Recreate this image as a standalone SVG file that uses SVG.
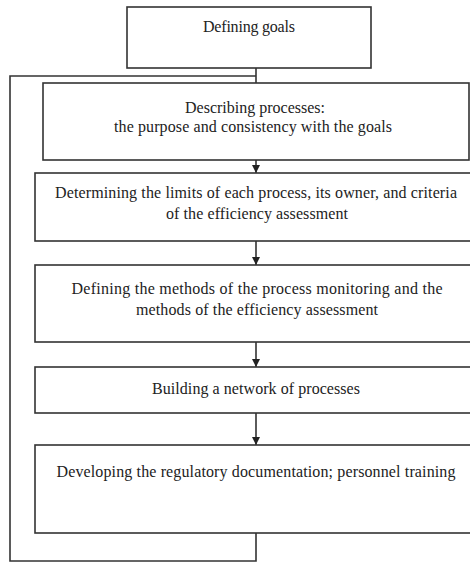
<svg xmlns="http://www.w3.org/2000/svg" width="470" height="563" viewBox="0 0 470 563">
<style>
.box{fill:#fff;stroke:#333;stroke-width:1.6}
.t{font-family:"Liberation Serif","Times New Roman",serif;font-size:16px;fill:#222;text-anchor:middle}
.c{fill:none;stroke:#333;stroke-width:1.6}
</style>
<defs>
<marker id="ah" viewBox="0 0 10 10" refX="10" refY="5" markerWidth="8" markerHeight="8" markerUnits="userSpaceOnUse" orient="auto">
<path d="M0,0 L10,5 L0,10 Z" fill="#222"/>
</marker>
</defs>
<rect width="470" height="563" fill="#fff"/>
<g id="connectors">
<line class="c" x1="256" y1="68" x2="256" y2="83"/>
<polyline class="c" points="256,533 256,561 10,561 10,76 256,76"/>
<line class="c" x1="256" y1="160" x2="256" y2="173" marker-end="url(#ah)"/>
<line class="c" x1="256" y1="241" x2="256" y2="265" marker-end="url(#ah)"/>
<line class="c" x1="256" y1="342" x2="256" y2="367" marker-end="url(#ah)"/>
<line class="c" x1="256" y1="413" x2="256" y2="445" marker-end="url(#ah)"/>
</g>
<g id="n1">
<rect class="box" x="127" y="7" width="244" height="61"/>
<text class="t" x="249" y="32" textLength="92">Defining goals</text>
</g>
<g id="n2">
<rect class="box" x="43" y="83" width="426" height="77"/>
<text class="t" x="255" y="113" textLength="140">Describing processes:</text>
<text class="t" x="253" y="132" textLength="278">the purpose and consistency with the goals</text>
</g>
<g id="n3">
<rect class="box" x="35" y="173" width="445" height="68"/>
<text class="t" x="256" y="198" textLength="402">Determining the limits of each process, its owner, and criteria</text>
<text class="t" x="257" y="219" textLength="182">of the efficiency  assessment</text>
</g>
<g id="n4">
<rect class="box" x="35" y="265" width="445" height="77"/>
<text class="t" x="257" y="294" textLength="371">Defining the methods of the process monitoring and the</text>
<text class="t" x="257" y="315" textLength="242">methods of the efficiency  assessment</text>
</g>
<g id="n5">
<rect class="box" x="35" y="367" width="445" height="46"/>
<text class="t" x="256" y="394" textLength="208">Building a network of processes</text>
</g>
<g id="n6">
<rect class="box" x="35" y="445" width="445" height="88"/>
<text class="t" x="256" y="477" textLength="399">Developing the regulatory documentation; personnel training</text>
</g>
</svg>
